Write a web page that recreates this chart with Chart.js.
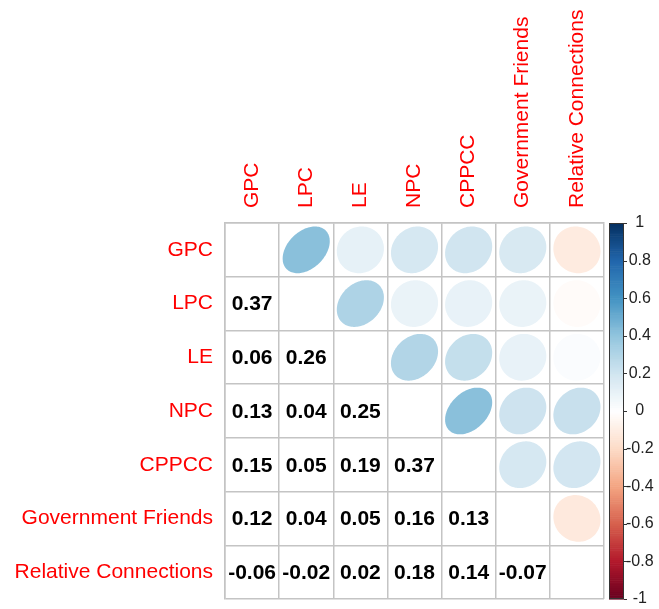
<!DOCTYPE html>
<html><head><meta charset="utf-8">
<script src="https://cdn.jsdelivr.net/npm/chart.js@4.4.1/dist/chart.umd.min.js"></script>
<style>html,body{margin:0;padding:0;background:#fff;}</style>
</head><body>
<canvas id="c" width="659" height="609" style="display:block;width:659px;height:609px"></canvas>
<script>
// ---- data ----
const variables = ['GPC', 'LPC', 'LE', 'NPC', 'CPPCC', 'Government Friends', 'Relative Connections'];
const corrGPC   = [1, 0.37, 0.06, 0.13, 0.15, 0.12, -0.06];
const corrLPC   = [0.37, 1, 0.26, 0.04, 0.05, 0.04, -0.02];
const corrLE    = [0.06, 0.26, 1, 0.25, 0.19, 0.05, 0.02];
const corrNPC   = [0.13, 0.04, 0.25, 1, 0.37, 0.16, 0.18];
const corrCPPCC = [0.15, 0.05, 0.19, 0.37, 1, 0.13, 0.14];
const corrGF    = [0.12, 0.04, 0.05, 0.16, 0.13, 1, -0.07];
const corrRC    = [-0.06, -0.02, 0.02, 0.18, 0.14, -0.07, 1];
const colorbarTicks = [-1, -0.8, -0.6, -0.4, -0.2, 0, 0.2, 0.4, 0.6, 0.8, 1];
const colorbarLabels = ['-1', '-0.8', '-0.6', '-0.4', '-0.2', '0', '0.2', '0.4', '0.6', '0.8', '1'];

const palette = ['#67001F', '#B2182B', '#D6604D', '#F4A582', '#FDDBC7', '#FFFFFF',
                 '#D1E5F0', '#92C5DE', '#4393C3', '#2166AC', '#053061'];

const matrix = [corrGPC, corrLPC, corrLE, corrNPC, corrCPPCC, corrGF, corrRC];
const points = [];
matrix.forEach((row, i) => row.forEach((v, j) => {
  points.push({ x: variables[j], y: variables[i], v: v, i: i, j: j });
}));

function hex2rgb(h) { return [1, 3, 5].map(k => parseInt(h.substr(k, 2), 16)); }
const palRgb = palette.map(hex2rgb);
function colorFor(v) {
  const p = Math.max(0, Math.min(1, (v + 1) / 2)) * (palRgb.length - 1);
  const i0 = Math.min(Math.floor(p), palRgb.length - 2);
  const f = p - i0;
  const a = palRgb[i0], b = palRgb[i0 + 1];
  const c = a.map((x, k) => Math.round(x + (b[k] - x) * f));
  return 'rgb(' + c.join(',') + ')';
}
// fill tone for the ellipses (the reference renders them a touch deeper)
function fillFor(v) {
  const m = Math.abs(v) < 0.03 ? Math.abs(v) : Math.abs(v) + 0.05;
  return colorFor(Math.sign(v) * Math.min(1, m));
}

const FONT = "'Liberation Sans', Arial, Helvetica, sans-serif";
const GRID = '#c4c4c4';

const corrPlugin = {
  id: 'corrCells',
  afterDatasetsDraw(chart) {
    const ctx = chart.ctx;
    const xs = chart.scales.x, ys = chart.scales.y;
    const cw = Math.abs(xs.getPixelForValue(1) - xs.getPixelForValue(0));
    const ch = Math.abs(ys.getPixelForValue(1) - ys.getPixelForValue(0));
    const meta = chart.getDatasetMeta(0);
    const data = chart.data.datasets[0].data;
    ctx.save();
    meta.data.forEach((el, k) => {
      const d = data[k];
      if (d.i === d.j) return;
      const cx = el.x, cy = el.y;
      if (d.j > d.i) {
        const a = Math.acos(d.v);
        ctx.beginPath();
        for (let s = 0; s <= 120; s++) {
          const t = 2 * Math.PI * s / 120;
          const ex = Math.cos(t + a / 2) / 2 * 0.87 * cw;
          const ey = Math.cos(t - a / 2) / 2 * 0.87 * ch;
          if (s === 0) ctx.moveTo(cx + ex, cy - ey); else ctx.lineTo(cx + ex, cy - ey);
        }
        ctx.closePath();
        ctx.fillStyle = fillFor(d.v);
        ctx.fill();
      } else {
        ctx.fillStyle = '#000';
        ctx.font = 'bold 21px ' + FONT;
        ctx.textAlign = 'center';
        ctx.textBaseline = 'middle';
        ctx.fillText(d.v.toFixed(2), cx, cy + 1);
      }
    });
    ctx.restore();
  },
  afterDraw(chart) {
    const ctx = chart.ctx;
    const cb = chart.scales.cb;
    const top = cb.getPixelForValue(1), bot = cb.getPixelForValue(-1);
    const x0 = cb.left + 5, x1 = cb.left + 20;
    ctx.save();
    const n = 200;
    for (let k = 0; k < n; k++) {
      const v0 = -1 + 2 * k / n, v1 = -1 + 2 * (k + 1) / n;
      const y0 = cb.getPixelForValue(v0), y1 = cb.getPixelForValue(v1);
      ctx.fillStyle = colorFor((v0 + v1) / 2);
      ctx.fillRect(x0, y1, x1 - x0, y0 - y1 + 0.6);
    }
    ctx.strokeStyle = '#333';
    ctx.lineWidth = 1;
    ctx.strokeRect(x0 + 0.5, top + 0.5, x1 - x0 - 1, bot - top - 1);
    colorbarTicks.forEach(v => {
      const y = Math.round(cb.getPixelForValue(v)) + 0.5;
      ctx.beginPath();
      ctx.moveTo(x1, y); ctx.lineTo(x1 + 3, y);
      ctx.stroke();
    });
    ctx.restore();
  }
};

function noPad(s) { s.paddingTop = 0; s.paddingBottom = 0; }

new Chart(document.getElementById('c'), {
  type: 'scatter',
  data: { datasets: [{ data: points, pointRadius: 0, pointHoverRadius: 0 }] },
  options: {
    responsive: false,
    animation: false,
    layout: { padding: { left: 0, right: 0, top: 0, bottom: 10 } },
    plugins: { legend: { display: false }, tooltip: { enabled: false } },
    events: [],
    scales: {
      x: {
        type: 'category', labels: variables, position: 'top', offset: true,
        grid: { offset: true, color: GRID, lineWidth: 1.5, drawTicks: false },
        border: { color: GRID, width: 1.5 },
        ticks: { color: '#ff0000', font: { family: FONT, size: 21 }, minRotation: 90, maxRotation: 90, padding: 15, labelOffset: 25, autoSkip: false },
        afterFit(s) { s.height = 223; s.paddingLeft = 0; s.paddingRight = 0; }
      },
      y: {
        type: 'category', labels: variables, position: 'left', offset: true,
        grid: { offset: true, color: GRID, lineWidth: 1.5, drawTicks: false },
        border: { color: GRID, width: 1.5 },
        ticks: { color: '#ff0000', font: { family: FONT, size: 21 }, padding: 12, autoSkip: false },
        afterFit(s) { s.width = 225; noPad(s); }
      },
      cb: {
        type: 'linear', position: 'right', min: -1, max: 1,
        grid: { display: false, drawOnChartArea: false },
        border: { display: false },
        afterBuildTicks(s) { s.ticks = colorbarTicks.map(v => ({ value: v })); },
        ticks: {
          color: '#222', font: { family: FONT, size: 16 }, crossAlign: 'center', padding: 14, autoSkip: false,
          callback: (v) => colorbarLabels[colorbarTicks.findIndex(t => Math.abs(t - v) < 1e-6)]
        },
        afterFit(s) { s.width = 55; noPad(s); }
      }
    }
  },
  plugins: [corrPlugin]
});
</script>
</body></html>
